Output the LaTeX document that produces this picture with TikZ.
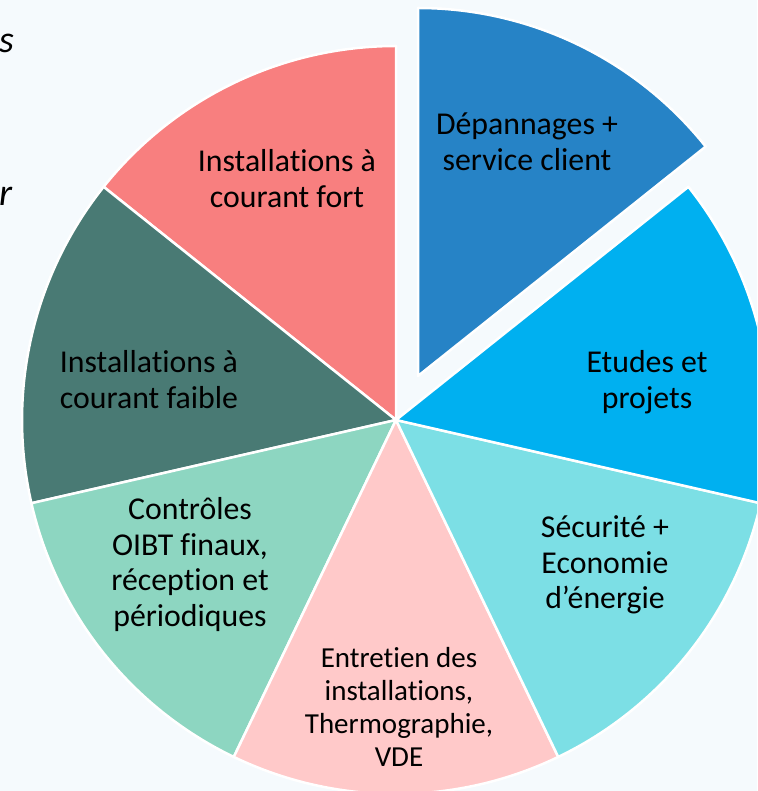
\documentclass[tikz,border=0pt]{standalone}
\usepackage{fontspec}
\setmainfont{Carlito}[Ligatures={NoCommon,NoRare,NoDiscretionary},Contextuals=NoAlternate]
\definecolor{bg}{HTML}{F5FAFD}
\definecolor{cRed}{HTML}{F87F7F}
\definecolor{cDark}{HTML}{497A74}
\definecolor{cGreen}{HTML}{8DD6C1}
\definecolor{cPink}{HTML}{FFC9C9}
\definecolor{cTeal}{HTML}{7CDFE5}
\definecolor{cCyan}{HTML}{00B0F0}
\definecolor{cBlue}{HTML}{2683C6}
\begin{document}
\begin{tikzpicture}[x=1pt,y=1pt,
  slice/.style={draw=white,line width=2.5pt,line join=round},
  lbl/.style={anchor=base,inner sep=0pt,font=\fontsize{31.8}{35.5}\selectfont},
  lblsmall/.style={anchor=base,inner sep=0pt,font=\fontsize{29}{32.7}\selectfont},
  frag/.style={anchor=base west,inner sep=0pt,font=\fontsize{38}{40}\selectfont\itshape}]
\useasboundingbox (0,0) rectangle (757,791);
\fill[bg] (0,0) rectangle (757,791);
\clip (0,0) rectangle (757,791);
\coordinate (C) at (396,371);
\coordinate (A) at (418,415);
\def\pieR{374}
\def\blueR{368}
% slices
\path[fill=cRed,slice] (C) -- ++(90:\pieR) arc[start angle=90,end angle=141.43,radius=\pieR] -- cycle;
\path[fill=cDark,slice] (C) -- ++(141.43:\pieR) arc[start angle=141.43,end angle=192.86,radius=\pieR] -- cycle;
\path[fill=cGreen,slice] (C) -- ++(192.86:\pieR) arc[start angle=192.86,end angle=244.29,radius=\pieR] -- cycle;
\path[fill=cPink,slice] (C) -- ++(244.29:\pieR) arc[start angle=244.29,end angle=295.71,radius=\pieR] -- cycle;
\path[fill=cTeal,slice] (C) -- ++(295.71:\pieR) arc[start angle=295.71,end angle=347.14,radius=\pieR] -- cycle;
\path[fill=cCyan,slice] (C) -- ++(347.14:\pieR) arc[start angle=347.14,end angle=398.57,radius=\pieR] -- cycle;
\path[fill=cBlue,slice] (A) -- ++(38.57:\blueR) arc[start angle=38.57,end angle=90,radius=\blueR] -- cycle;
% labels
\node[lbl] (depan) at (527,656) {\begin{tabular}[t]{@{}c@{}}Dépannages +\\service client\end{tabular}};
\node[lbl] (fort) at (287,619) {\begin{tabular}[t]{@{}c@{}}Installations à\\courant fort\end{tabular}};
\node[lbl] (etudes) at (647,418) {\begin{tabular}[t]{@{}c@{}}Etudes et\\projets\end{tabular}};
\node[lbl] (faible) at (149,418) {\begin{tabular}[t]{@{}c@{}}Installations à\\courant faible\end{tabular}};
\node[lbl] (controles) at (190,271) {\begin{tabular}[t]{@{}c@{}}Contrôles\\OIBT finaux,\\réception et\\périodiques\end{tabular}};
\node[lbl] (securite) at (605,253) {\begin{tabular}[t]{@{}c@{}}Sécurité +\\Economie\\d’énergie\end{tabular}};
\node[lblsmall] (entretien) at (399,123) {\begin{tabular}[t]{@{}c@{}}Entretien des\\installations,\\Thermographie,\\VDE\end{tabular}};
% cut-off text fragments at the left edge
\node[frag] (fragS) at (-1,738) {s};
\node[frag] (fragR) at (-1,585) {r};
\end{tikzpicture}
\end{document}
